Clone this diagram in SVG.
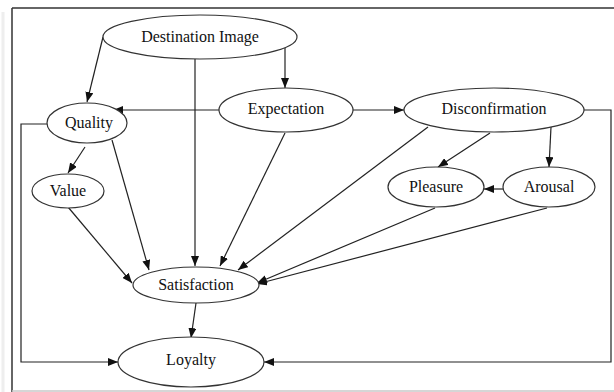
<svg xmlns="http://www.w3.org/2000/svg" width="614" height="392" viewBox="0 0 614 392">
  <style>
    .node ellipse { fill: #ffffff; stroke: #333333; stroke-width: 1.2; }
    .label { font-family: "Liberation Serif", "Times New Roman", "DejaVu Serif", serif; font-size: 16px; fill: #111111; text-anchor: middle; }
    .edge { fill: none; stroke: #222222; stroke-width: 1.2; marker-end: url(#arrow); }
  </style>
  <defs>
    <marker id="arrow" markerUnits="userSpaceOnUse" markerWidth="11" markerHeight="8" refX="10" refY="4" orient="auto">
      <path d="M0,0 L10,4 L0,8 z" fill="#111111"/>
    </marker>
  </defs>
  <rect x="0" y="0" width="614" height="392" fill="#ffffff"/>
  <g id="frame">
    <line x1="3" y1="12" x2="3" y2="392" stroke="#eeeeee" stroke-width="3"/>
    <line x1="12" y1="8" x2="614" y2="8" stroke="#333333" stroke-width="1.5"/>
    <line x1="12" y1="8" x2="12" y2="392" stroke="#333333" stroke-width="1.5"/>
    <line x1="12" y1="391" x2="614" y2="391" stroke="#c8c8c8" stroke-width="1.5"/>
  </g>
  <g id="connectors">
    <path class="edge" d="M103,37 L87,102"/>
    <path class="edge" d="M195,59 L195,266"/>
    <path class="edge" d="M285,37 L285,88"/>
    <path class="edge" d="M219,110 L113,110"/>
    <path class="edge" d="M353,110 L404,110"/>
    <path class="edge" d="M285,133 L220,266"/>
    <path class="edge" d="M85,147 L68,173"/>
    <path class="edge" d="M112,140 L149,270"/>
    <path class="edge" d="M68,207 L132,283"/>
    <path class="edge" d="M428,127 L238,270"/>
    <path class="edge" d="M490,133 L438,167"/>
    <path class="edge" d="M551,127 L549,167"/>
    <path class="edge" d="M504,189 L484,189"/>
    <path class="edge" d="M435,208 L257,283"/>
    <path class="edge" d="M547,208 L257,284"/>
    <path class="edge" d="M196,303 L191,338"/>
    <path class="edge" d="M48,124 L21,124 L21,362 L118,362"/>
    <path class="edge" d="M584,110 L611,110 L611,362 L264,362"/>
  </g>
  <g id="destination-image" class="node">
    <ellipse cx="200" cy="37" rx="97" ry="22"/>
    <text class="label" x="200" y="42" font-family="Liberation Serif, serif">Destination Image</text>
  </g>
  <g id="expectation" class="node">
    <ellipse cx="286" cy="110" rx="67" ry="22"/>
    <text class="label" x="286" y="114" font-family="Liberation Serif, serif">Expectation</text>
  </g>
  <g id="disconfirmation" class="node">
    <ellipse cx="494" cy="110" rx="90" ry="22"/>
    <text class="label" x="494" y="114" font-family="Liberation Serif, serif">Disconfirmation</text>
  </g>
  <g id="quality" class="node">
    <ellipse cx="87" cy="123" rx="40" ry="20"/>
    <text class="label" x="89" y="128" font-family="Liberation Serif, serif">Quality</text>
  </g>
  <g id="value" class="node">
    <ellipse cx="68" cy="191" rx="36" ry="17"/>
    <text class="label" x="68" y="196" font-family="Liberation Serif, serif">Value</text>
  </g>
  <g id="pleasure" class="node">
    <ellipse cx="436" cy="187" rx="48" ry="20"/>
    <text class="label" x="436" y="192" font-family="Liberation Serif, serif">Pleasure</text>
  </g>
  <g id="arousal" class="node">
    <ellipse cx="549" cy="187" rx="46" ry="20"/>
    <text class="label" x="549" y="192" font-family="Liberation Serif, serif">Arousal</text>
  </g>
  <g id="satisfaction" class="node">
    <ellipse cx="196" cy="285" rx="63" ry="18"/>
    <text class="label" x="196" y="290" font-family="Liberation Serif, serif">Satisfaction</text>
  </g>
  <g id="loyalty" class="node">
    <ellipse cx="191" cy="362" rx="73" ry="25"/>
    <text class="label" x="191" y="365" font-family="Liberation Serif, serif">Loyalty</text>
  </g>
</svg>
